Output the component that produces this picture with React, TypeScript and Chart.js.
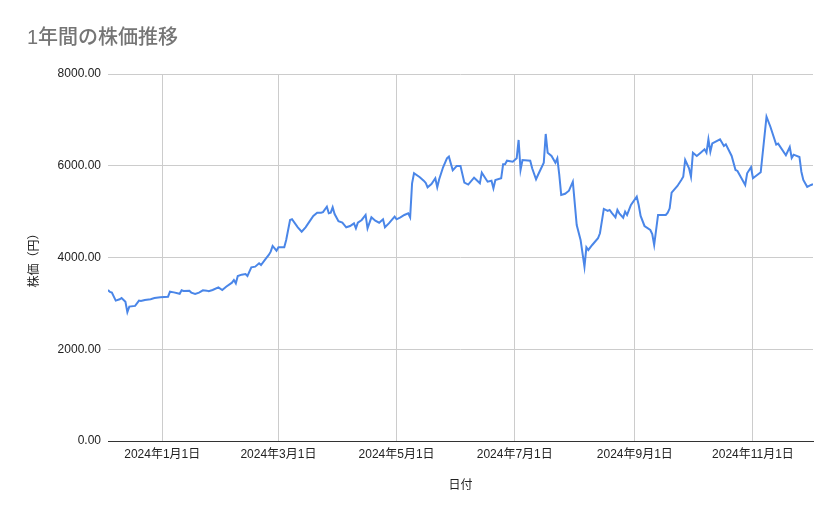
import React, { useEffect, useRef } from "react";
import { Chart, registerables } from "chart.js";

Chart.register(...registerables);

const chartTitle = "1年間の株価推移";
const xAxisTitle = "日付";
const yAxisTitle = "株価（円）";

const dates: string[] = [
  "2023-12-04", "2023-12-05", "2023-12-06", "2023-12-08", "2023-12-10", "2023-12-11", "2023-12-13", "2023-12-14",
  "2023-12-15", "2023-12-18", "2023-12-20", "2023-12-21", "2023-12-23", "2023-12-26", "2023-12-28", "2023-12-31",
  "2024-01-04", "2024-01-05", "2024-01-07", "2024-01-10", "2024-01-11", "2024-01-12", "2024-01-15", "2024-01-16",
  "2024-01-18", "2024-01-20", "2024-01-22", "2024-01-24", "2024-01-25", "2024-01-27", "2024-01-30", "2024-02-01",
  "2024-02-03", "2024-02-06", "2024-02-07", "2024-02-08", "2024-02-09", "2024-02-11", "2024-02-13", "2024-02-14",
  "2024-02-16", "2024-02-18", "2024-02-20", "2024-02-21", "2024-02-23", "2024-02-25", "2024-02-26", "2024-02-27",
  "2024-02-29", "2024-03-01", "2024-03-04", "2024-03-05", "2024-03-07", "2024-03-08", "2024-03-11", "2024-03-13",
  "2024-03-15", "2024-03-17", "2024-03-19", "2024-03-21", "2024-03-23", "2024-03-24", "2024-03-26", "2024-03-27",
  "2024-03-28", "2024-03-29", "2024-03-30", "2024-04-01", "2024-04-03", "2024-04-05", "2024-04-07", "2024-04-09",
  "2024-04-10", "2024-04-11", "2024-04-13", "2024-04-15", "2024-04-16", "2024-04-18", "2024-04-20", "2024-04-22",
  "2024-04-24", "2024-04-25", "2024-04-27", "2024-04-30", "2024-05-01", "2024-05-03", "2024-05-05", "2024-05-07",
  "2024-05-08", "2024-05-09", "2024-05-10", "2024-05-13", "2024-05-15", "2024-05-16", "2024-05-17", "2024-05-19",
  "2024-05-21", "2024-05-22", "2024-05-23", "2024-05-25", "2024-05-27", "2024-05-28", "2024-05-30", "2024-06-01",
  "2024-06-03", "2024-06-05", "2024-06-07", "2024-06-10", "2024-06-11", "2024-06-13", "2024-06-14", "2024-06-17",
  "2024-06-19", "2024-06-20", "2024-06-21", "2024-06-24", "2024-06-25", "2024-06-26", "2024-06-27", "2024-06-30",
  "2024-07-02", "2024-07-03", "2024-07-04", "2024-07-05", "2024-07-09", "2024-07-10", "2024-07-12", "2024-07-13",
  "2024-07-16", "2024-07-17", "2024-07-18", "2024-07-20", "2024-07-22", "2024-07-23", "2024-07-24", "2024-07-25",
  "2024-07-27", "2024-07-29", "2024-07-31", "2024-08-02", "2024-08-04", "2024-08-06", "2024-08-07", "2024-08-08",
  "2024-08-10", "2024-08-13", "2024-08-14", "2024-08-16", "2024-08-18", "2024-08-19", "2024-08-20", "2024-08-22",
  "2024-08-23", "2024-08-24", "2024-08-26", "2024-08-27", "2024-08-28", "2024-08-30", "2024-09-02", "2024-09-03",
  "2024-09-04", "2024-09-06", "2024-09-09", "2024-09-10", "2024-09-11", "2024-09-13", "2024-09-17", "2024-09-18",
  "2024-09-19", "2024-09-20", "2024-09-23", "2024-09-25", "2024-09-26", "2024-09-27", "2024-09-29", "2024-09-30",
  "2024-10-01", "2024-10-03", "2024-10-05", "2024-10-07", "2024-10-08", "2024-10-09", "2024-10-10", "2024-10-11",
  "2024-10-15", "2024-10-17", "2024-10-18", "2024-10-21", "2024-10-23", "2024-10-24", "2024-10-28", "2024-10-29",
  "2024-10-31", "2024-11-01", "2024-11-05", "2024-11-08", "2024-11-10", "2024-11-13", "2024-11-14", "2024-11-18",
  "2024-11-20", "2024-11-21", "2024-11-22", "2024-11-25", "2024-11-26", "2024-11-27", "2024-11-29", "2024-12-01",
  "2024-12-02",
];

const prices: number[] = [
  3290, 3250, 3235, 3060, 3090, 3115, 3035, 2810,
  2930, 2945, 3060, 3050, 3075, 3090, 3115, 3135,
  3145, 3255, 3240, 3210, 3285, 3270, 3275, 3235,
  3205, 3235, 3285, 3277, 3263, 3292, 3350, 3292,
  3364, 3451, 3510, 3437, 3597, 3626, 3640, 3597,
  3786, 3800, 3873, 3836, 3946, 4055, 4127, 4251,
  4149, 4222, 4222, 4382, 4818, 4833, 4658, 4563,
  4658, 4781, 4905, 4977, 4977, 4990, 5108, 4963,
  4977, 5094, 4948, 4790, 4759, 4658, 4687, 4745,
  4637, 4759, 4818, 4927, 4637, 4876, 4803, 4759,
  4833, 4658, 4745, 4890, 4833, 4876, 4927, 4963,
  4876, 5618, 5836, 5749, 5675, 5630, 5531, 5603,
  5727, 5531, 5705, 5967, 6163, 6199, 5900, 5995,
  5995, 5632, 5590, 5740, 5700, 5618, 5849, 5653,
  5675, 5509, 5690, 5727, 6032, 6032, 6111, 6089,
  6163, 6562, 5908, 6126, 6111, 5945, 5705, 5799,
  6067, 6693, 6285, 6213, 6067, 6163, 5799, 5363,
  5390, 5457, 5653, 4709, 4382, 3800, 4222, 4164,
  4273, 4419, 4528, 5058, 5014, 5036, 4977, 4876,
  5036, 4963, 4868, 4999, 4927, 5145, 5326, 5145,
  4905, 4687, 4600, 4513, 4273, 4927, 4927, 4977,
  5072, 5413, 5559, 5690, 5760, 6126, 5945, 5762,
  6285, 6213, 6285, 6358, 6285, 6577, 6307, 6489,
  6577, 6431, 6467, 6213, 5908, 5886, 5581, 5836,
  5967, 5727, 5857, 7070, 6850, 6460, 6482, 6228,
  6409, 6170, 6242, 6191, 5870, 5690, 5540, 5581,
  5600,
];

const xTickDates: string[] = [
  "2024-01-01", "2024-03-01", "2024-05-01", "2024-07-01", "2024-09-01", "2024-11-01",
];

const yMin = 0;
const yMax = 8000;
const yStep = 2000;

const toMs = (s: string) => {
  const [y, m, d] = s.split("-").map(Number);
  return Date.UTC(y, m - 1, d);
};

const FONT = '"Liberation Sans", Arial, "Noto Sans CJK JP", sans-serif';

export default function App() {
  const canvasRef = useRef<HTMLCanvasElement | null>(null);

  useEffect(() => {
    document.body.style.margin = "0";
    const canvas = canvasRef.current;
    if (!canvas) return;

    const points = dates.map((d, i) => ({ x: toMs(d), y: prices[i] }));
    const tickValues = xTickDates.map(toMs);

    const chart = new Chart(canvas, {
      type: "line",
      data: {
        datasets: [
          {
            label: yAxisTitle,
            data: points,
            borderColor: "#4a86e8",
            backgroundColor: "#4a86e8",
            borderWidth: 2,
            pointRadius: 0,
            pointHoverRadius: 0,
            tension: 0,
            fill: false,
          },
        ],
      },
      options: {
        animation: false,
        responsive: true,
        maintainAspectRatio: false,
        layout: { padding: { left: 27, right: 26, top: 0, bottom: 0 } },
        plugins: {
          legend: { display: false },
          tooltip: { enabled: false },
          title: {
            display: true,
            text: chartTitle,
            align: "start",
            color: "#757575",
            font: { family: FONT, size: 20, weight: "500" },
            padding: { top: 26, bottom: 24 },
          },
        },
        scales: {
          x: {
            type: "linear",
            min: toMs(dates[0]),
            max: toMs(dates[dates.length - 1]),
            afterBuildTicks: (scale: any) => {
              scale.ticks = tickValues.map((v) => ({ value: v }));
            },
            afterFit: (scale: any) => {
              scale.height = 78;
            },
            ticks: {
              autoSkip: false,
              maxRotation: 0,
              padding: 6,
              color: "#222222",
              font: { family: FONT, size: 12 },
              callback: (value: any) => {
                const dt = new Date(Number(value));
                return `${dt.getUTCFullYear()}年${dt.getUTCMonth() + 1}月${dt.getUTCDate()}日`;
              },
            },
            grid: { color: "#cccccc", drawTicks: false, lineWidth: 1 },
            border: { display: true, color: "#333333", width: 1 },
            title: {
              display: true,
              text: xAxisTitle,
              color: "#222222",
              font: { family: FONT, size: 12 },
              padding: { top: 0, bottom: 26 },
            },
          },
          y: {
            min: yMin,
            max: yMax,
            afterFit: (scale: any) => {
              scale.width = 81;
            },
            ticks: {
              stepSize: yStep,
              padding: 7,
              color: "#222222",
              font: { family: FONT, size: 12 },
              callback: (value: any) => Number(value).toFixed(2),
            },
            grid: {
              color: (ctx: any) => (ctx.tick && ctx.tick.value === 0 ? "#333333" : "#cccccc"),
              drawTicks: false,
              lineWidth: 1,
            },
            border: { display: false },
            title: {
              display: true,
              text: yAxisTitle,
              color: "#222222",
              font: { family: FONT, size: 12 },
              padding: { top: 0, bottom: 0 },
            },
          },
        },
      },
    });

    return () => {
      chart.destroy();
    };
  }, []);

  return (
    <div style={{ position: "relative", width: 839, height: 519 }}>
      <canvas ref={canvasRef} />
    </div>
  );
}
